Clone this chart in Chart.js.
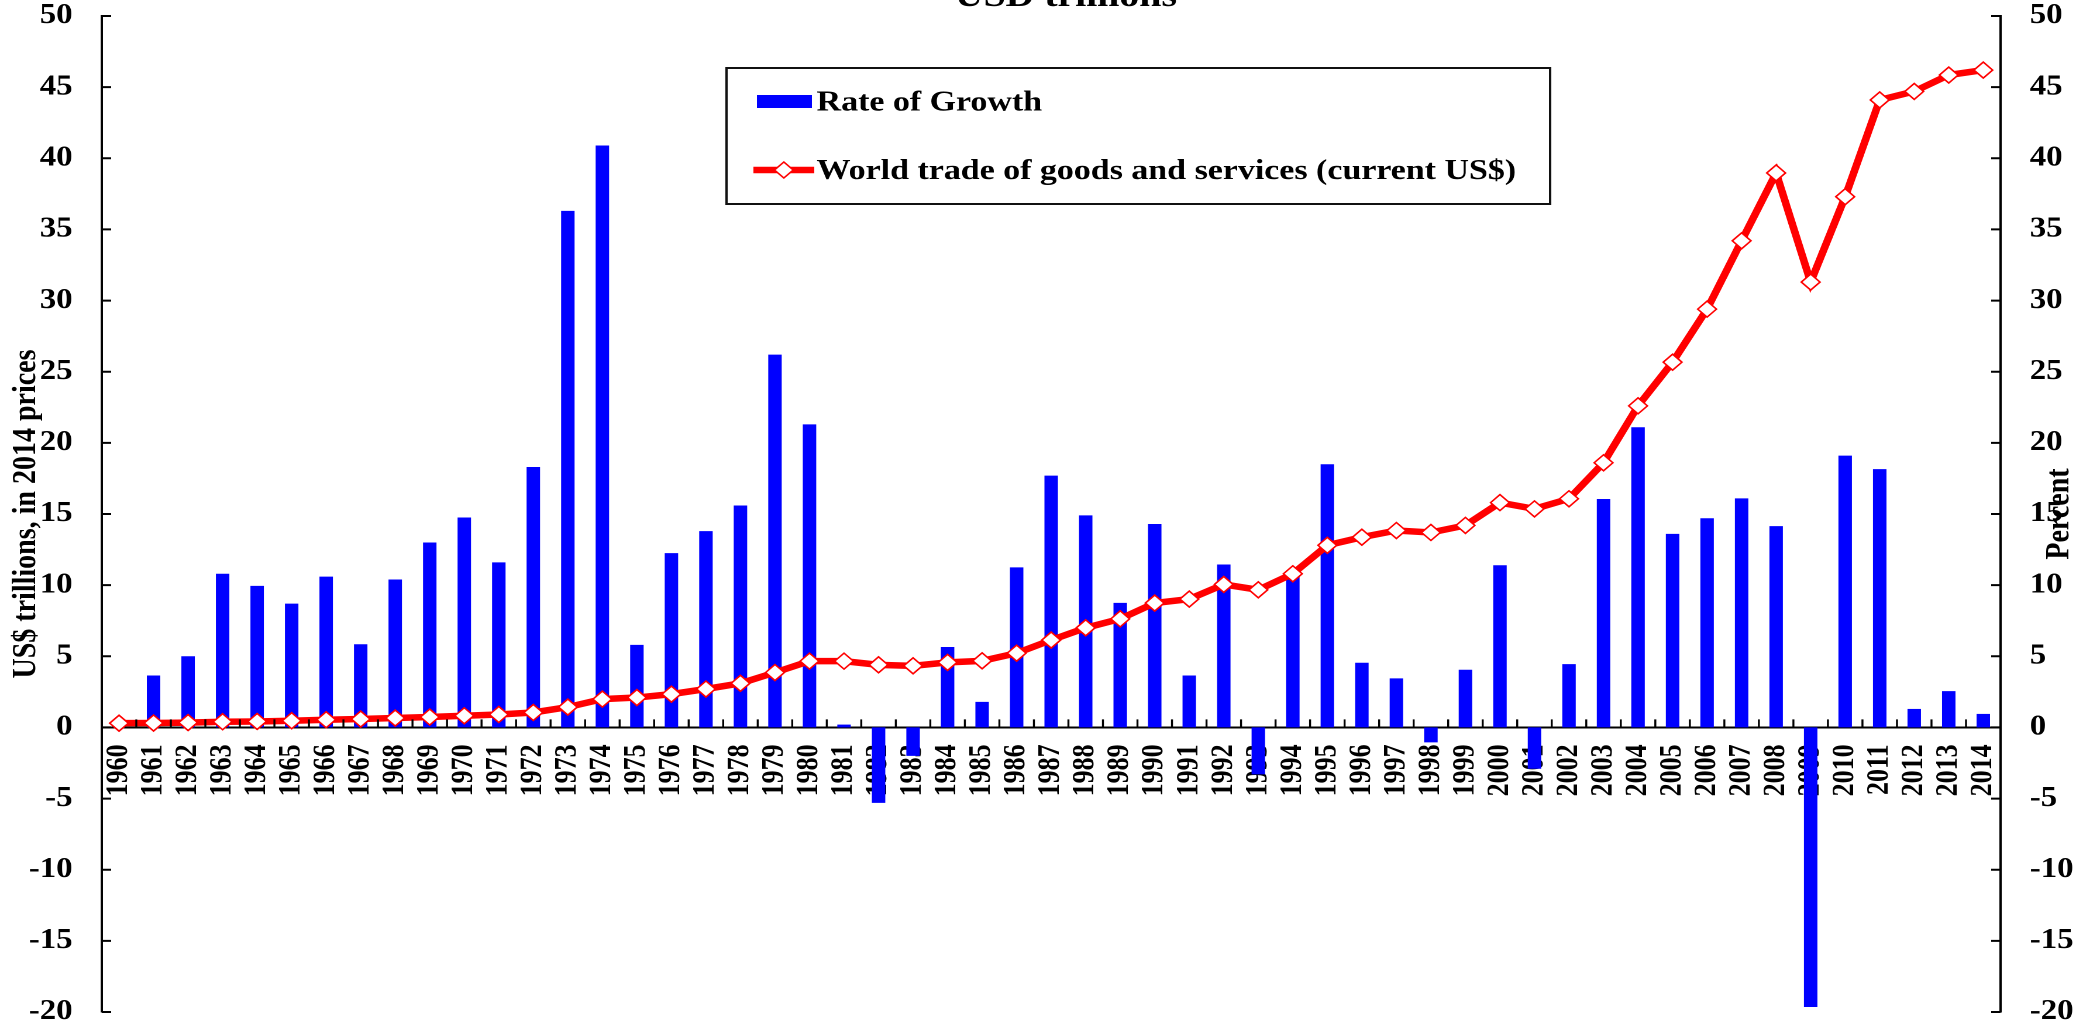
<!DOCTYPE html>
<html lang="en">
  <head>
    <meta charset="UTF-8" />
    <title>World trade of goods and services, USD trillions</title>
    <script src="https://cdn.jsdelivr.net/npm/chart.js"></script>
    <style>
      html,
      body {
        margin: 0;
        padding: 0;
        background: #ffffff;
        overflow: hidden;
      }
      /* the original picture is stretched sideways, so the canvas is too */
      #tradeChart {
        display: block;
        transform-origin: 0 0;
        transform: scaleX(1.1699);
      }
    </style>
  </head>
  <body>
    <canvas id="tradeChart" width="1772" height="1023"></canvas>

    <script>
      const years = [
        "1960", "1961", "1962", "1963", "1964", "1965", "1966", "1967", "1968", "1969",
        "1970", "1971", "1972", "1973", "1974", "1975", "1976", "1977", "1978", "1979",
        "1980", "1981", "1982", "1983", "1984", "1985", "1986", "1987", "1988", "1989",
        "1990", "1991", "1992", "1993", "1994", "1995", "1996", "1997", "1998", "1999",
        "2000", "2001", "2002", "2003", "2004", "2005", "2006", "2007", "2008", "2009",
        "2010", "2011", "2012", "2013", "2014",
      ];

      // Rate of Growth, percent (right axis)
      const growthRate = [
        null, 3.65, 5.0, 10.8, 9.95, 8.7, 10.6, 5.85, 10.4, 13.0,
        14.75, 11.6, 18.3, 36.3, 40.9, 5.8, 12.25, 13.8, 15.6, 26.2,
        21.3, 0.2, -5.3, -2.0, 5.65, 1.8, 11.25, 17.7, 14.9, 8.75,
        14.3, 3.65, 11.45, -3.3, 11.0, 18.5, 4.55, 3.45, -1.05, 4.05,
        11.4, -2.9, 4.45, 16.05, 21.1, 13.6, 14.7, 16.1, 14.15, -19.65,
        19.1, 18.15, 1.3, 2.55, 0.95,
      ];

      // World trade of goods and services, US$ trillions (left axis)
      const worldTrade = [
        0.3, 0.31, 0.34, 0.4, 0.42, 0.47, 0.54, 0.59, 0.66, 0.73,
        0.82, 0.91, 1.05, 1.43, 1.99, 2.1, 2.34, 2.7, 3.1, 3.86,
        4.66, 4.66, 4.4, 4.33, 4.57, 4.68, 5.22, 6.14, 7.0, 7.63,
        8.74, 9.02, 10.05, 9.67, 10.8, 12.8, 13.37, 13.84, 13.7, 14.2,
        15.8, 15.36, 16.07, 18.6, 22.6, 25.67, 29.4, 34.2, 38.97, 31.3,
        37.3, 44.1, 44.7, 45.85, 46.2,
      ];

      const axisMin = -20;
      const axisMax = 50;
      const axisStep = 5;

      const chartTitle = "USD trillions";
      const leftTitle = "US$ trillions, in 2014 prices";
      const rightTitle = "Percent";

      const SERIF = '"Liberation Serif", "Times New Roman", serif';

      const valueTicks = {
        stepSize: axisStep,
        padding: 25,
        color: "#000",
        font: { family: SERIF, size: 28, weight: "bold", lineHeight: 0.8 },
      };

      // chart.js counts the tick padding twice and adds it above/below too
      function fitValueAxis(scale) {
        scale.width = 62;
        scale.paddingTop = 11;
        scale.paddingBottom = 11;
      }

      // ticks pointing inwards, titles, legend box
      const extras = {
        id: "extras",
        afterDraw(chart) {
          const { ctx, chartArea, scales } = chart;
          const xs = scales.x;
          const yl = scales.y;
          const yr = scales.y1;
          const zeroY = yl.getPixelForValue(0);
          const midY = (chartArea.top + chartArea.bottom) / 2;

          ctx.save();
          ctx.strokeStyle = "#000";
          ctx.lineWidth = 2;
          ctx.beginPath();
          yl.ticks.forEach((t) => {
            const py = yl.getPixelForValue(t.value);
            ctx.moveTo(chartArea.left, py);
            ctx.lineTo(chartArea.left + 8, py);
          });
          yr.ticks.forEach((t) => {
            const py = yr.getPixelForValue(t.value);
            ctx.moveTo(chartArea.right - 8, py);
            ctx.lineTo(chartArea.right, py);
          });
          ctx.stroke();

          ctx.lineWidth = 1.7;
          ctx.beginPath();
          const half = (xs.getPixelForValue(1) - xs.getPixelForValue(0)) / 2;
          for (let i = 1; i < years.length; i++) {
            const px = xs.getPixelForValue(i) - half;
            ctx.moveTo(px, zeroY);
            ctx.lineTo(px, zeroY - 8);
          }
          ctx.stroke();

          // titles
          ctx.fillStyle = "#000";
          ctx.textAlign = "center";
          ctx.textBaseline = "alphabetic";
          ctx.font = `bold 34px ${SERIF}`;
          ctx.fillText(chartTitle, 911, 6);

          ctx.font = `bold 28px ${SERIF}`;
          ctx.save();
          ctx.translate(30, midY);
          ctx.rotate(-Math.PI / 2);
          ctx.fillText(leftTitle, 0, 0);
          ctx.restore();
          ctx.save();
          ctx.translate(chart.width - 4, midY);
          ctx.rotate(-Math.PI / 2);
          ctx.fillText(rightTitle, 0, 0);
          ctx.restore();

          // legend
          const bars = chart.data.datasets[0];
          const line = chart.data.datasets[1];
          ctx.fillStyle = "#fff";
          ctx.fillRect(621, 68, 704, 136);
          ctx.strokeStyle = "#111";
          ctx.lineWidth = 2;
          ctx.strokeRect(621, 68, 704, 136);

          ctx.fillStyle = bars.backgroundColor;
          ctx.fillRect(647, 95, 47, 13);

          ctx.strokeStyle = line.borderColor;
          ctx.lineWidth = line.borderWidth;
          ctx.beginPath();
          ctx.moveTo(644, 170);
          ctx.lineTo(696, 170);
          ctx.stroke();
          ctx.fillStyle = "#fff";
          ctx.lineWidth = 1.5;
          ctx.beginPath();
          ctx.moveTo(670, 162);
          ctx.lineTo(678, 170);
          ctx.lineTo(670, 178);
          ctx.lineTo(662, 170);
          ctx.closePath();
          ctx.fill();
          ctx.stroke();

          ctx.fillStyle = "#000";
          ctx.textAlign = "left";
          ctx.font = `bold 29px ${SERIF}`;
          ctx.fillText(bars.label, 698, 110.5);
          ctx.fillText(line.label, 698, 179);
          ctx.restore();
        },
      };

      const ctx = document.getElementById("tradeChart").getContext("2d");
      const tradeChart = new Chart(ctx, {
        type: "bar",
        data: {
          labels: years,
          datasets: [
            {
              label: "Rate of Growth",
              data: growthRate,
              yAxisID: "y1",
              backgroundColor: "#0000FF",
              barPercentage: 0.39,
              categoryPercentage: 1,
              order: 2,
            },
            {
              type: "line",
              label: "World trade of goods and services (current US$)",
              data: worldTrade,
              yAxisID: "y",
              borderColor: "#FF0000",
              borderWidth: 6.5,
              tension: 0,
              pointStyle: "rectRot",
              pointRadius: 8,
              pointBorderWidth: 1.5,
              pointBackgroundColor: "#FFFFFF",
              pointBorderColor: "#FF0000",
              order: 1,
            },
          ],
        },
        options: {
          responsive: false,
          animation: false,
          devicePixelRatio: 2,
          layout: { padding: { left: 25, right: 0, top: 16, bottom: 11 } },
          plugins: {
            legend: { display: false },
            tooltip: { enabled: false },
          },
          scales: {
            x: {
              position: { y: 0 },
              offset: true,
              z: 1,
              grid: { display: false, drawTicks: false },
              border: { display: true, color: "#000", width: 2 },
              ticks: {
                autoSkip: false,
                minRotation: 90,
                maxRotation: 90,
                padding: 17,
                color: "#000",
                font: { family: SERIF, size: 26, weight: "bold" },
              },
            },
            y: {
              position: "left",
              min: axisMin,
              max: axisMax,
              afterFit: fitValueAxis,
              grid: { display: false, drawTicks: false },
              border: { display: true, color: "#000", width: 2 },
              ticks: valueTicks,
            },
            y1: {
              position: "right",
              min: axisMin,
              max: axisMax,
              afterFit: fitValueAxis,
              grid: { display: false, drawTicks: false },
              border: { display: true, color: "#000", width: 2 },
              ticks: valueTicks,
            },
          },
        },
        plugins: [extras],
      });
    </script>
  </body>
</html>
